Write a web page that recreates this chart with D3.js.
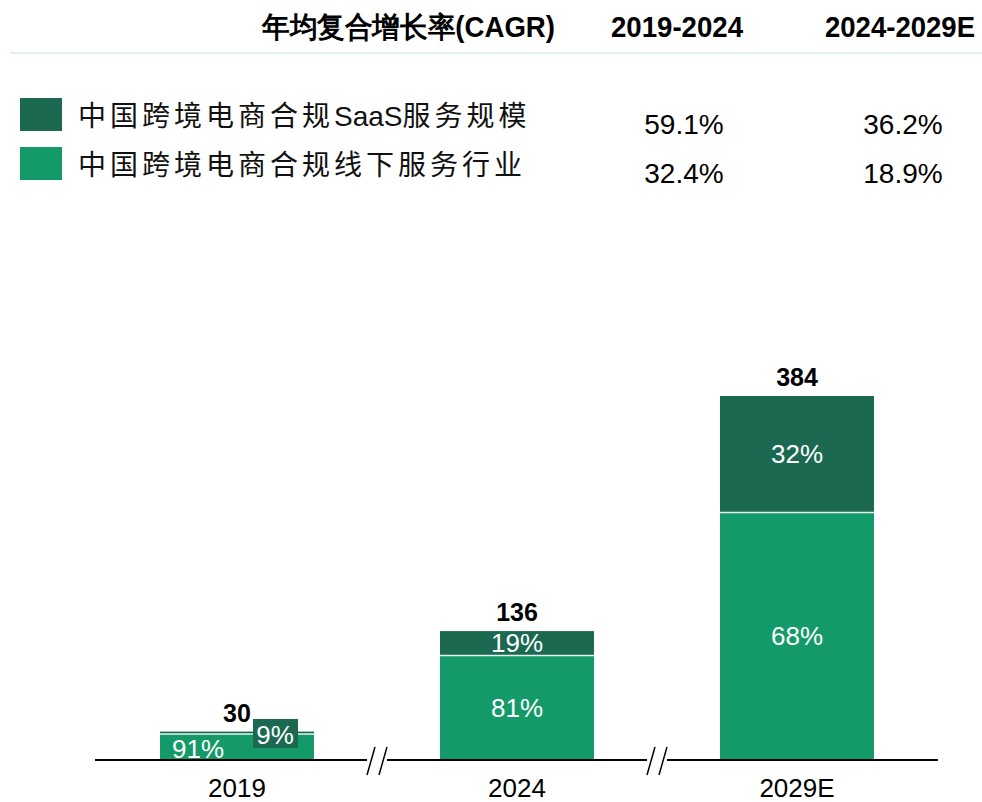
<!DOCTYPE html>
<html>
<head>
<meta charset="utf-8">
<script src="https://cdn.jsdelivr.net/npm/d3@7"></script>
<style>
  body { margin: 0; background: #fff; }
  svg { display: block; font-family: "Liberation Sans", Arial, sans-serif; }
</style>
</head>
<body>
<script>
const w = 982;
const h = 802;

// data
const years = ["2019", "2024", "2029E"];
const totals = [30, 136, 384];
const saasShare = [9, 19, 32];
const offlineShare = [91, 81, 68];
const seriesNames = [["中国跨境电商合规", "SaaS", "服务规模"], ["中国跨境电商合规线下服务行业"]];
const cagrPeriods = ["2019-2024", "2024-2029E"];
const cagrSaas = ["59.1%", "36.2%"];
const cagrOffline = ["32.4%", "18.9%"];

const dark = "#1a6950";
const light = "#139a68";

const svg = d3.select("body").append("svg").attr("width", w).attr("height", h);

// header
const header = [
  { t: "年均复合增长率(CAGR)", x: 262, len: 293 },
  { t: cagrPeriods[0], x: 611, len: 132 },
  { t: cagrPeriods[1], x: 825, len: 150 }
];
svg.selectAll("text.head")
  .data(header)
  .enter()
  .append("text")
  .attr("class", "head")
  .attr("x", (d) => d.x)
  .attr("y", 37)
  .attr("font-size", 29)
  .attr("font-weight", "bold")
  .attr("textLength", (d) => d.len)
  .attr("lengthAdjust", "spacingAndGlyphs")
  .text((d) => d.t);

svg.append("line")
  .attr("x1", 10).attr("x2", 982)
  .attr("y1", 53).attr("y2", 53)
  .attr("stroke", "#d8eee5").attr("stroke-width", 1.5);

// legend
const legendRows = [
  { name: seriesNames[0], color: dark, y: 98, vals: cagrSaas },
  { name: seriesNames[1], color: light, y: 147, vals: cagrOffline }
];
const rows = svg.selectAll("g.leg").data(legendRows).enter().append("g").attr("class", "leg");
rows.append("rect")
  .attr("x", 20).attr("y", (d) => d.y)
  .attr("width", 42).attr("height", 33)
  .attr("fill", (d) => d.color);
rows.append("text")
  .attr("x", 78).attr("y", (d) => d.y + 28)
  .attr("font-size", 28)
  .attr("fill", "#111")
  .selectAll("tspan")
  .data((d) => d.name)
  .enter()
  .append("tspan")
  .attr("font-family", (s) => (/^[A-Za-z]+$/.test(s) ? "'Liberation Sans', Arial, sans-serif" : "'Noto Sans CJK SC', sans-serif"))
  .attr("letter-spacing", (s) => (/^[A-Za-z]+$/.test(s) ? 0 : 4))
  .text((s) => s);
rows.each(function (d) {
  d3.select(this).selectAll("text.val")
    .data(d.vals)
    .enter()
    .append("text")
    .attr("class", "val")
    .attr("x", (v, i) => [684, 903][i])
    .attr("y", d.y + 36)
    .attr("text-anchor", "middle")
    .attr("font-size", 28)
    .text((v) => v);
});

// chart
const x = d3.scaleBand().domain(years).range([97, 937]).paddingInner(0.45).paddingOuter(0.225);
const y = d3.scaleLinear().domain([0, 384]).range([760, 396]);

const data = years.map((yr, i) => ({
  year: yr,
  total: totals[i],
  offline: totals[i] * offlineShare[i] / 100,
  saas: totals[i] * saasShare[i] / 100,
  offPct: offlineShare[i],
  saasPct: saasShare[i]
}));

const bars = svg.selectAll("g.bar").data(data).enter().append("g").attr("class", "bar");

bars.append("rect")
  .attr("x", (d) => x(d.year))
  .attr("width", x.bandwidth())
  .attr("y", (d) => y(d.offline))
  .attr("height", (d) => y(0) - y(d.offline))
  .attr("fill", light);

bars.append("rect")
  .attr("x", (d) => x(d.year))
  .attr("width", x.bandwidth())
  .attr("y", (d) => y(d.total))
  .attr("height", (d) => y(d.offline) - y(d.total))
  .attr("fill", dark);

// separator between segments
bars.append("line")
  .attr("x1", (d) => x(d.year))
  .attr("x2", (d) => x(d.year) + x.bandwidth())
  .attr("y1", (d) => y(d.offline))
  .attr("y2", (d) => y(d.offline))
  .attr("stroke", "#e6f3ee")
  .attr("stroke-width", 1.5);

// totals
bars.append("text")
  .attr("x", (d) => x(d.year) + x.bandwidth() / 2)
  .attr("y", (d) => y(d.total) - 10)
  .attr("text-anchor", "middle")
  .attr("font-size", 25)
  .attr("font-weight", "bold")
  .text((d) => d.total);

// share labels
bars.each(function (d, i) {
  const g = d3.select(this);
  const cx = x(d.year) + x.bandwidth() / 2;
  if (i === 0) {
    g.append("rect")
      .attr("x", cx + 16).attr("y", 719)
      .attr("width", 45).attr("height", 29)
      .attr("fill", dark);
    g.append("text")
      .attr("x", cx + 38).attr("y", 744)
      .attr("text-anchor", "middle")
      .attr("font-size", 26).attr("fill", "#fff")
      .text(d.saasPct + "%");
    g.append("text")
      .attr("x", cx - 39).attr("y", 758)
      .attr("text-anchor", "middle")
      .attr("font-size", 26).attr("fill", "#fff")
      .text(d.offPct + "%");
  } else {
    g.append("text")
      .attr("x", cx)
      .attr("y", (y(d.offline) + y(d.total)) / 2 + 9)
      .attr("text-anchor", "middle")
      .attr("font-size", 26).attr("fill", "#fff")
      .text(d.saasPct + "%");
    g.append("text")
      .attr("x", cx)
      .attr("y", (y(0) + y(d.offline)) / 2 + 9)
      .attr("text-anchor", "middle")
      .attr("font-size", 26).attr("fill", "#fff")
      .text(d.offPct + "%");
  }
});

// baseline
svg.append("line")
  .attr("x1", 95).attr("x2", 938)
  .attr("y1", y(0)).attr("y2", y(0))
  .attr("stroke", "#000").attr("stroke-width", 2);

// axis breaks
const breaks = years.slice(1).map((yr, i) => (x(years[i]) + x.bandwidth() + x(yr)) / 2);
breaks.forEach((bx) => {
  svg.append("rect")
    .attr("x", bx - 10).attr("y", y(0) - 3)
    .attr("width", 20).attr("height", 6)
    .attr("fill", "#fff");
  [-6, 6].forEach((dx) => {
    svg.append("line")
      .attr("x1", bx + dx - 4).attr("x2", bx + dx + 4)
      .attr("y1", y(0) + 15).attr("y2", y(0) - 13)
      .attr("stroke", "#000").attr("stroke-width", 1.5);
  });
});

// category labels
svg.selectAll("text.cat")
  .data(years)
  .enter()
  .append("text")
  .attr("class", "cat")
  .attr("x", (d) => x(d) + x.bandwidth() / 2)
  .attr("y", 797)
  .attr("text-anchor", "middle")
  .attr("font-size", 26)
  .text((d) => d);
</script>
</body>
</html>
